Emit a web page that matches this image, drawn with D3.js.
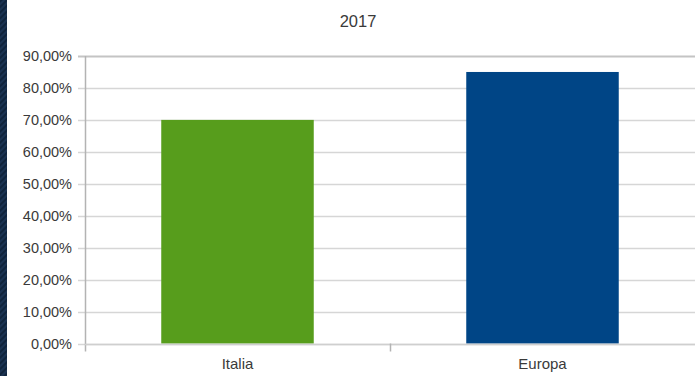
<!DOCTYPE html>
<html>
<head>
<meta charset="utf-8">
<script src="https://cdn.jsdelivr.net/npm/d3@7"></script>
<style>
  html, body { margin: 0; padding: 0; background: #fff; }
  svg { display: block; }
  text { font-family: "Liberation Sans", Arial, sans-serif; fill: #3a3a3a; }
</style>
</head>
<body>
<svg id="chart" width="695" height="376"></svg>
<script>
// Chart data
const title = "2017";
const categories = ["Italia", "Europa"];
const values = [0.70, 0.85];
const barColors = ["#579d1c", "#004586"];
const yTicks = [0, 0.1, 0.2, 0.3, 0.4, 0.5, 0.6, 0.7, 0.8, 0.9];

const W = 695, H = 376;
const plot = { left: 85, right: 695, top: 56, bottom: 343.5 };

const svg = d3.select("#chart");

// Dark striped band along the left edge
const defs = svg.append("defs");
const pat = defs.append("pattern")
  .attr("id", "stripes").attr("patternUnits", "userSpaceOnUse")
  .attr("width", 4).attr("height", 4)
  .attr("patternTransform", "rotate(45)");
pat.append("rect").attr("width", 4).attr("height", 4).attr("fill", "#1b3352");
pat.append("rect").attr("width", 2).attr("height", 4).attr("fill", "#10243c");
svg.append("rect").attr("x", 0).attr("y", 0).attr("width", 7).attr("height", H).attr("fill", "url(#stripes)");

const x = d3.scaleBand().domain(categories).range([plot.left, plot.right]);
const y = d3.scaleLinear().domain([0, 0.9]).range([plot.bottom, plot.top]);

const pctFmt = v => d3.format(".2f")(v * 100).replace(".", ",") + "%";

// Horizontal grid lines with short ticks to the left of the axis
svg.append("g").selectAll("line").data(yTicks).join("line")
  .attr("x1", plot.left - 7).attr("x2", plot.right)
  .attr("y1", d => Math.round(y(d)) + 0.5).attr("y2", d => Math.round(y(d)) + 0.5)
  .attr("stroke", (d, i) => i === yTicks.length - 1 ? "#c4c4c4" : "#d6d6d6")
  .attr("stroke-width", (d, i) => i === yTicks.length - 1 ? 2 : 1.5);

// Y-axis labels
svg.append("g").selectAll("text").data(yTicks).join("text")
  .attr("x", plot.left - 13).attr("y", d => y(d))
  .attr("dy", "0.35em").attr("text-anchor", "end")
  .attr("font-size", 14.5)
  .text(pctFmt);

// Bars
svg.append("g").selectAll("rect").data(categories).join("rect")
  .attr("x", d => x(d) + x.bandwidth() * 0.25)
  .attr("width", x.bandwidth() * 0.5)
  .attr("y", (d, i) => y(values[i]))
  .attr("height", (d, i) => y(0) - y(values[i]))
  .attr("fill", (d, i) => barColors[i]);

// Vertical axis
svg.append("line")
  .attr("x1", plot.left + 0.5).attr("x2", plot.left + 0.5)
  .attr("y1", plot.top).attr("y2", plot.bottom + 8)
  .attr("stroke", "#b3b3b3").attr("stroke-width", 1.5);

// X-axis baseline
svg.append("line")
  .attr("x1", plot.left).attr("x2", plot.right)
  .attr("y1", Math.round(y(0)) + 0.5).attr("y2", Math.round(y(0)) + 0.5)
  .attr("stroke", "#cfcfcf").attr("stroke-width", 1.5);

// Category separator ticks
svg.append("g").selectAll("line").data(categories.slice(1)).join("line")
  .attr("x1", d => x(d) + 0.5).attr("x2", d => x(d) + 0.5)
  .attr("y1", plot.bottom).attr("y2", plot.bottom + 8)
  .attr("stroke", "#b3b3b3").attr("stroke-width", 1.5);

// Category labels
svg.append("g").selectAll("text").data(categories).join("text")
  .attr("x", d => x(d) + x.bandwidth() / 2)
  .attr("y", 364).attr("dy", "0.35em")
  .attr("text-anchor", "middle").attr("font-size", 15)
  .text(d => d);

// Title
svg.append("text")
  .attr("x", 358).attr("y", 21).attr("dy", "0.35em")
  .attr("text-anchor", "middle").attr("font-size", 16.5)
  .text(title);
</script>
</body>
</html>
